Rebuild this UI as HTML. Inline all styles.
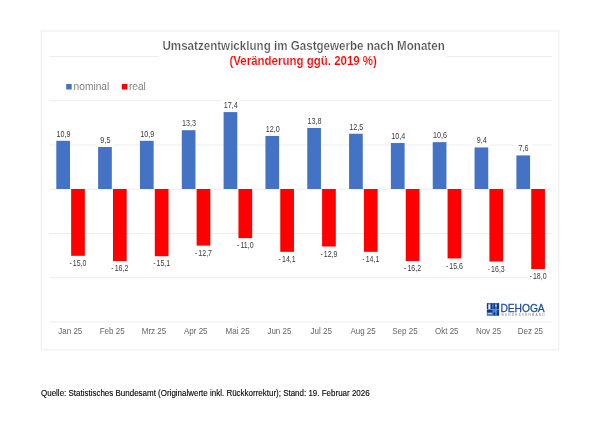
<!DOCTYPE html>
<html lang="de"><head><meta charset="utf-8"><title>Umsatzentwicklung im Gastgewerbe nach Monaten</title>
<style>
html,body{margin:0;padding:0;background:#fff;}
body{width:610px;height:432px;overflow:hidden;position:relative;font-family:"Liberation Sans",Arial,sans-serif;}
svg{position:absolute;left:0;top:0;display:block;filter:blur(0.35px);}
svg text{font-family:"Liberation Sans",Arial,sans-serif;}
.v{font-size:8.15px;fill:#3a3a3a;text-anchor:middle;}
.m{font-size:8.8px;fill:#666666;text-anchor:middle;}
.lg{font-size:10.2px;fill:#606060;stroke:#fff;stroke-width:0.15px;}
.t1{font-size:12px;font-weight:bold;fill:#505050;text-anchor:middle;stroke:#fff;stroke-width:0.24px;}
.t2{font-size:11.9px;font-weight:bold;fill:#ff0000;text-anchor:middle;stroke:#fff;stroke-width:0.15px;}
.src{font-size:8.7px;fill:#000;stroke:#000;stroke-width:0.12px;}
</style></head><body>
<svg width="610" height="432" viewBox="0 0 610 432">
<rect x="0" y="0" width="610" height="432" fill="#fff"/>
<rect x="41.3" y="31" width="517.5" height="318.8" fill="#fff" stroke="#efefef" stroke-width="1.2"/>
<line x1="49.2" y1="321.93" x2="551.8" y2="321.93" stroke="#ededed" stroke-width="1.1"/>
<line x1="49.2" y1="277.68" x2="551.8" y2="277.68" stroke="#ededed" stroke-width="1.1"/>
<line x1="49.2" y1="233.43" x2="551.8" y2="233.43" stroke="#ededed" stroke-width="1.1"/>
<line x1="49.2" y1="189.18" x2="551.8" y2="189.18" stroke="#ededed" stroke-width="1.1"/>
<line x1="49.2" y1="144.93" x2="551.8" y2="144.93" stroke="#ededed" stroke-width="1.1"/>
<line x1="49.2" y1="100.68" x2="551.8" y2="100.68" stroke="#ededed" stroke-width="1.1"/>
<line x1="49.2" y1="56.43" x2="551.8" y2="56.43" stroke="#ededed" stroke-width="1.1"/>
<rect x="159" y="38" width="288" height="32" fill="#fff"/>
<text class="t1" transform="translate(303.6 50.1) scale(0.967 1)">Umsatzentwicklung im Gastgewerbe nach Monaten</text>
<text class="t2" transform="translate(303.2 64.5) scale(0.966 1)">(Veränderung ggü. 2019 %)</text>
<rect x="66.2" y="84" width="5.5" height="5.5" fill="#4472c4"/>
<text class="lg" x="73.6" y="89.9">nominal</text>
<rect x="121.8" y="84" width="5.5" height="5.5" fill="#ff0000"/>
<text class="lg" x="128.9" y="89.9">real</text>
<rect x="56.30" y="140.82" width="13.7" height="48.18" fill="#4472c4"/>
<rect x="71.15" y="189.00" width="13.7" height="66.80" fill="#ff0000"/>
<rect x="53.85" y="127.77" width="18.6" height="11" fill="#fff"/>
<text class="v" transform="translate(63.55 136.57) scale(0.885 1)">10,9</text>
<rect x="67.50" y="258.00" width="21" height="11" fill="#fff"/>
<text class="v" transform="translate(78.00 266.00) scale(0.86 1)"><tspan letter-spacing="1.2">-</tspan>15,0</text>
<text class="m" transform="translate(70.31 334) scale(0.91 1)">Jan 25</text>
<rect x="98.12" y="147.01" width="13.7" height="41.99" fill="#4472c4"/>
<rect x="112.97" y="189.00" width="13.7" height="72.10" fill="#ff0000"/>
<rect x="95.67" y="133.96" width="18.6" height="11" fill="#fff"/>
<text class="v" transform="translate(105.38 142.76) scale(0.885 1)">9,5</text>
<rect x="109.32" y="263.30" width="21" height="11" fill="#fff"/>
<text class="v" transform="translate(119.82 271.30) scale(0.86 1)"><tspan letter-spacing="1.2">-</tspan>16,2</text>
<text class="m" transform="translate(112.14 334) scale(0.91 1)">Feb 25</text>
<rect x="139.95" y="140.82" width="13.7" height="48.18" fill="#4472c4"/>
<rect x="154.80" y="189.00" width="13.7" height="67.24" fill="#ff0000"/>
<rect x="137.50" y="127.77" width="18.6" height="11" fill="#fff"/>
<text class="v" transform="translate(147.20 136.57) scale(0.885 1)">10,9</text>
<rect x="151.15" y="258.44" width="21" height="11" fill="#fff"/>
<text class="v" transform="translate(161.65 266.44) scale(0.86 1)"><tspan letter-spacing="1.2">-</tspan>15,1</text>
<text class="m" transform="translate(153.96 334) scale(0.91 1)">Mrz 25</text>
<rect x="181.78" y="130.21" width="13.7" height="58.79" fill="#4472c4"/>
<rect x="196.62" y="189.00" width="13.7" height="56.63" fill="#ff0000"/>
<rect x="179.32" y="117.16" width="18.6" height="11" fill="#fff"/>
<text class="v" transform="translate(189.03 125.96) scale(0.885 1)">13,3</text>
<rect x="192.97" y="247.83" width="21" height="11" fill="#fff"/>
<text class="v" transform="translate(203.47 255.83) scale(0.86 1)"><tspan letter-spacing="1.2">-</tspan>12,7</text>
<text class="m" transform="translate(195.79 334) scale(0.91 1)">Apr 25</text>
<rect x="223.60" y="112.09" width="13.7" height="76.91" fill="#4472c4"/>
<rect x="238.45" y="189.00" width="13.7" height="49.12" fill="#ff0000"/>
<rect x="221.15" y="99.04" width="18.6" height="11" fill="#fff"/>
<text class="v" transform="translate(230.85 107.84) scale(0.885 1)">17,4</text>
<rect x="234.80" y="240.32" width="21" height="11" fill="#fff"/>
<text class="v" transform="translate(245.30 248.32) scale(0.86 1)"><tspan letter-spacing="1.2">-</tspan>11,0</text>
<text class="m" transform="translate(237.61 334) scale(0.91 1)">Mai 25</text>
<rect x="265.43" y="135.96" width="13.7" height="53.04" fill="#4472c4"/>
<rect x="280.27" y="189.00" width="13.7" height="62.82" fill="#ff0000"/>
<rect x="262.98" y="122.91" width="18.6" height="11" fill="#fff"/>
<text class="v" transform="translate(272.68 131.71) scale(0.885 1)">12,0</text>
<rect x="276.62" y="254.02" width="21" height="11" fill="#fff"/>
<text class="v" transform="translate(287.12 262.02) scale(0.86 1)"><tspan letter-spacing="1.2">-</tspan>14,1</text>
<text class="m" transform="translate(279.44 334) scale(0.91 1)">Jun 25</text>
<rect x="307.25" y="128.00" width="13.7" height="61.00" fill="#4472c4"/>
<rect x="322.10" y="189.00" width="13.7" height="57.52" fill="#ff0000"/>
<rect x="304.80" y="114.95" width="18.6" height="11" fill="#fff"/>
<text class="v" transform="translate(314.50 123.75) scale(0.885 1)">13,8</text>
<rect x="318.45" y="248.72" width="21" height="11" fill="#fff"/>
<text class="v" transform="translate(328.95 256.72) scale(0.86 1)"><tspan letter-spacing="1.2">-</tspan>12,9</text>
<text class="m" transform="translate(321.26 334) scale(0.91 1)">Jul 25</text>
<rect x="349.08" y="133.75" width="13.7" height="55.25" fill="#4472c4"/>
<rect x="363.93" y="189.00" width="13.7" height="62.82" fill="#ff0000"/>
<rect x="346.63" y="120.70" width="18.6" height="11" fill="#fff"/>
<text class="v" transform="translate(356.33 129.50) scale(0.885 1)">12,5</text>
<rect x="360.28" y="254.02" width="21" height="11" fill="#fff"/>
<text class="v" transform="translate(370.78 262.02) scale(0.86 1)"><tspan letter-spacing="1.2">-</tspan>14,1</text>
<text class="m" transform="translate(363.09 334) scale(0.91 1)">Aug 25</text>
<rect x="390.90" y="143.03" width="13.7" height="45.97" fill="#4472c4"/>
<rect x="405.75" y="189.00" width="13.7" height="72.10" fill="#ff0000"/>
<rect x="388.45" y="129.98" width="18.6" height="11" fill="#fff"/>
<text class="v" transform="translate(398.15 138.78) scale(0.885 1)">10,4</text>
<rect x="402.10" y="263.30" width="21" height="11" fill="#fff"/>
<text class="v" transform="translate(412.60 271.30) scale(0.86 1)"><tspan letter-spacing="1.2">-</tspan>16,2</text>
<text class="m" transform="translate(404.91 334) scale(0.91 1)">Sep 25</text>
<rect x="432.73" y="142.15" width="13.7" height="46.85" fill="#4472c4"/>
<rect x="447.57" y="189.00" width="13.7" height="69.45" fill="#ff0000"/>
<rect x="430.28" y="129.10" width="18.6" height="11" fill="#fff"/>
<text class="v" transform="translate(439.98 137.90) scale(0.885 1)">10,6</text>
<rect x="443.93" y="260.65" width="21" height="11" fill="#fff"/>
<text class="v" transform="translate(454.43 268.65) scale(0.86 1)"><tspan letter-spacing="1.2">-</tspan>15,6</text>
<text class="m" transform="translate(446.74 334) scale(0.91 1)">Okt 25</text>
<rect x="474.55" y="147.45" width="13.7" height="41.55" fill="#4472c4"/>
<rect x="489.40" y="189.00" width="13.7" height="72.55" fill="#ff0000"/>
<rect x="472.10" y="134.40" width="18.6" height="11" fill="#fff"/>
<text class="v" transform="translate(481.80 143.20) scale(0.885 1)">9,4</text>
<rect x="485.75" y="263.75" width="21" height="11" fill="#fff"/>
<text class="v" transform="translate(496.25 271.75) scale(0.86 1)"><tspan letter-spacing="1.2">-</tspan>16,3</text>
<text class="m" transform="translate(488.56 334) scale(0.91 1)">Nov 25</text>
<rect x="516.38" y="155.41" width="13.7" height="33.59" fill="#4472c4"/>
<rect x="531.23" y="189.00" width="13.7" height="80.06" fill="#ff0000"/>
<rect x="513.93" y="142.36" width="18.6" height="11" fill="#fff"/>
<text class="v" transform="translate(523.62 151.16) scale(0.885 1)">7,6</text>
<rect x="527.58" y="271.26" width="21" height="11" fill="#fff"/>
<text class="v" transform="translate(538.08 279.26) scale(0.86 1)"><tspan letter-spacing="1.2">-</tspan>18,0</text>
<text class="m" transform="translate(530.39 334) scale(0.91 1)">Dez 25</text>
<g transform="translate(485 301) scale(0.03937)">
<rect x="46" y="52" width="314" height="326" fill="#4f7abf"/>
<rect x="50" y="58" width="36" height="150" fill="#073b90"/>
<rect x="145" y="58" width="42" height="150" fill="#073b90"/>
<rect x="215" y="58" width="42" height="150" fill="#073b90"/>
<rect x="300" y="58" width="56" height="150" fill="#073b90"/>
<rect x="84" y="80" width="50" height="124" rx="14" fill="#dfe8f5"/>
<rect x="257" y="92" width="43" height="48" fill="#b9cbe6"/>
<rect x="187" y="100" width="28" height="30" fill="#7f9fd0"/>
<rect x="46" y="206" width="314" height="16" fill="#7c9ed0"/>
<rect x="50" y="228" width="136" height="58" fill="#073b90"/>
<rect x="70" y="310" width="106" height="24" fill="#c6d5eb"/>
<rect x="215" y="292" width="42" height="70" fill="#073b90"/>
<rect x="300" y="228" width="56" height="134" fill="#073b90"/>
<circle cx="288" cy="266" r="20" fill="#0a3f93" stroke="#b5c8e5" stroke-width="12"/>
</g>
<text transform="translate(500.5 311.6) scale(0.903 1)" style="font-size:11.4px;fill:#1c4b99;stroke:#1c4b99;stroke-width:0.25px;letter-spacing:-0.1px">DEHOGA</text>
<text x="501.5" y="315.7" style="font-size:3.3px;fill:#7d7d7d;letter-spacing:1.12px">BUNDESVERBAND</text>
<text class="src" transform="translate(41 395.55) scale(0.918 1)">Quelle: Statistisches Bundesamt (Originalwerte inkl. Rückkorrektur); Stand: 19. Februar 2026</text>
</svg>
</body></html>
